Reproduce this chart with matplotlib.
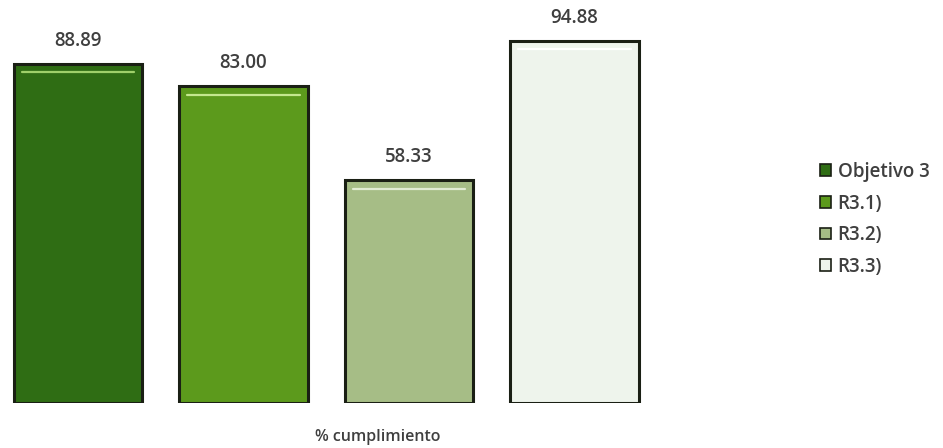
import matplotlib
matplotlib.use("Agg")
import matplotlib.pyplot as plt
from matplotlib.patches import Patch

categories = ["Objetivo 3", "R3.1)", "R3.2)", "R3.3)"]
values = [88.89, 83.00, 58.33, 94.88]
labels = ["88.89", "83.00", "58.33", "94.88"]
colors = ["#2f6d14", "#5c9a1c", "#a6bd86", "#eef4ec"]
highlights = ["#9fd06a", "#c4e88e", "#e2ecd4", "#ffffff"]
xlabel = "% cumplimiento"

plt.rcParams['font.family'] = ['Open Sans', 'DejaVu Sans']

fig = plt.figure(figsize=(9.43, 4.48), dpi=100)
ax = fig.add_axes([3.5 / 943, 45 / 448, 662 / 943, 381.5 / 448])

x = list(range(len(values)))
bars = ax.bar(x, values, width=0.775, color=colors, edgecolor="#1a1f14", linewidth=2.2, zorder=2)
for b, v, lab, hc in zip(bars, values, labels, highlights):
    x0 = b.get_x()
    w = b.get_width()
    ax.plot([x0 + 0.06 * w, x0 + 0.94 * w], [v - 2.2, v - 2.2], color=hc, lw=1.6,
            solid_capstyle="round", zorder=3)
    ax.text(x0 + w / 2, v + 3.5, lab, ha="center", va="bottom",
            fontsize=13.5, fontweight="semibold", color="#3f3f3f")

ax.set_xlim(-0.45, 3.55)
ax.set_ylim(0, 100)
ax.axis("off")

fig.text(378 / 943, 11 / 448, xlabel, ha="center", va="center",
         fontsize=11.5, fontweight="semibold", color="#3f3f3f")

handles = [Patch(facecolor=c, edgecolor="#1a1f14", linewidth=1.2) for c in colors]
leg = fig.legend(handles, categories, loc="upper left", bbox_to_anchor=(803 / 943, 1 - 145 / 448),
                 frameon=False, fontsize=13.5, handlelength=0.6, handleheight=0.6,
                 handletextpad=0.35, labelspacing=0.62, labelcolor="#3f3f3f")
for t in leg.get_texts():
    t.set_fontweight("semibold")

fig.savefig("out.png", dpi=100)
